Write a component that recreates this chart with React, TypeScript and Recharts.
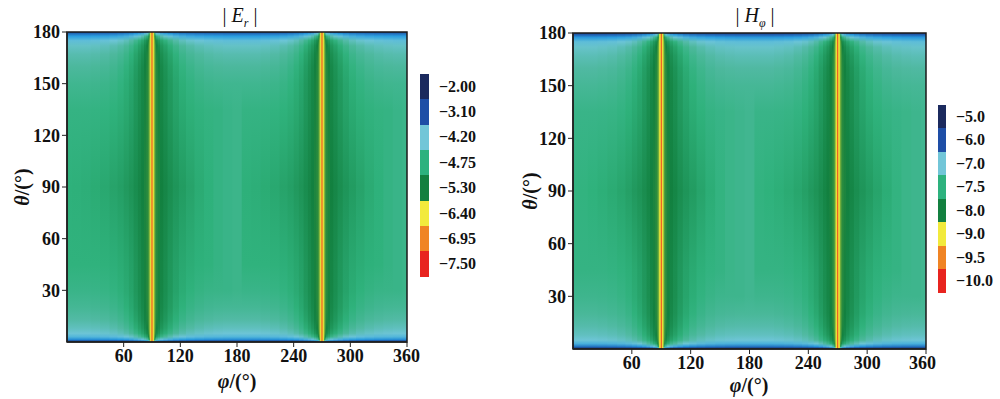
import React from "react";
import { ComposedChart, XAxis, YAxis, ReferenceArea, Scatter } from "recharts";

// phi nodes over one half period (0..180), the pattern repeats for 180..360
const phiHalf = [
  0, 10, 20, 30, 40, 50, 57, 63, 68, 73, 77, 80, 83, 85, 86.5, 87.3, 88, 88.7,
  89.3, 90, 90.7, 91.3, 92, 92.7, 93.5, 95, 97, 100, 104, 109, 115, 122, 130,
  140, 150, 160, 170, 180,
];

// field at theta = 90 for each phi node
const erMid = [
  -4.76, -4.77, -4.79, -4.82, -4.86, -4.91, -4.96, -5.02, -5.08, -5.16, -5.23,
  -5.3, -5.36, -5.42, -5.55, -5.8, -6.2, -6.4, -6.6, -7.5, -6.6, -6.4, -6.2,
  -5.8, -5.55, -5.42, -5.36, -5.3, -5.23, -5.15, -5.07, -4.99, -4.91, -4.83,
  -4.76, -4.7, -4.66, -4.64,
];
const hMid = [
  -7.47, -7.48, -7.5, -7.53, -7.57, -7.62, -7.68, -7.75, -7.8, -7.87, -7.94,
  -8.0, -8.05, -8.11, -8.23, -8.45, -8.82, -9.0, -9.18, -10.0, -9.18, -9.0,
  -8.82, -8.45, -8.23, -8.11, -8.05, -8.0, -7.94, -7.86, -7.79, -7.72, -7.64,
  -7.55, -7.47, -7.41, -7.38, -7.36,
];

// how strongly the pole bands show at each phi node
const edgeWeight = [
  1, 1, 1, 0.97, 0.93, 0.87, 0.8, 0.72, 0.62, 0.5, 0.4, 0.32, 0.22, 0.15, 0.08,
  0.03, 0, 0, 0, 0, 0, 0, 0, 0.03, 0.08, 0.15, 0.22, 0.32, 0.4, 0.5, 0.62, 0.72,
  0.8, 0.87, 0.93, 0.97, 1, 1,
];

const thetaNodes = [
  0, 0.6, 1.5, 3, 5, 8, 13, 20, 30, 45, 90, 135, 150, 160, 167, 172, 175, 177.5,
  179, 180,
];
// field near the poles (null: no pole band)
const erEdge = [
  -2.3, -3.0, -3.6, -4.0, -4.2, -4.32, -4.45, -4.56, -4.66, -4.74, null, -4.7,
  -4.6, -4.5, -4.4, -4.28, -4.1, -3.7, -3.35, -2.7,
];
const hEdge = [
  -5.2, -5.7, -6.3, -6.75, -7.0, -7.1, -7.2, -7.3, -7.38, -7.45, null, -7.42,
  -7.32, -7.24, -7.15, -7.05, -6.9, -6.5, -6.1, -5.6,
];
// how fast the pole band thins toward the bright lines, per theta node
const edgeSharp = [
  0.15, 0.2, 0.35, 0.6, 0.9, 1.2, 1.5, 1.8, 2, 2, 1, 2, 2, 1.8, 1.5, 1.2, 0.9,
  0.5, 0.3, 0.15,
];

const erLevels = [-2.0, -3.1, -4.2, -4.75, -5.3, -6.4, -6.95, -7.5];
const hLevels = [-5.0, -6.0, -7.0, -7.5, -8.0, -9.0, -9.5, -10.0];
const levelColors = [
  "#1b2a5e", "#1e4ea6", "#72c6d8", "#2db27e", "#138040", "#f2ea3c", "#f08424",
  "#e8241f",
];
// smooth colour map, position measured in colour-bar levels
const fieldStops: [number, string][] = [
  [0, "#1b2a5c"],
  [1, "#1d4fa5"],
  [1.55, "#2a9fe0"],
  [2, "#6dc5d6"],
  [2.5, "#4fb9a0"],
  [3, "#2fb27c"],
  [4, "#12803f"],
  [5, "#f0e93a"],
  [6, "#f08a22"],
  [7, "#e8221e"],
];

const phiTicks = [60, 120, 180, 240, 300, 360];
const phiMinor = [15, 30, 45, 75, 90, 105, 135, 150, 165, 195, 210, 225, 255, 270, 285, 315, 330, 345];
const thetaTicks = [30, 60, 90, 120, 150, 180];
const thetaMinor = [10, 20, 40, 50, 70, 80, 100, 110, 130, 140, 160, 170];

const FONT = "'Liberation Serif', 'Times New Roman', serif";

const hexToRgb = (h: string) => [
  parseInt(h.slice(1, 3), 16),
  parseInt(h.slice(3, 5), 16),
  parseInt(h.slice(5, 7), 16),
];

const levelIndex = (v: number, levels: number[]) => {
  if (v >= levels[0]) return 0;
  for (let k = 0; k < levels.length - 1; k++) {
    if (v <= levels[k] && v >= levels[k + 1]) {
      return k + (levels[k] - v) / (levels[k] - levels[k + 1]);
    }
  }
  return levels.length - 1;
};

const indexColor = (idx: number) => {
  for (let k = 0; k < fieldStops.length - 1; k++) {
    const [a, ca] = fieldStops[k];
    const [b, cb] = fieldStops[k + 1];
    if (idx >= a && idx <= b) {
      const t = (idx - a) / (b - a);
      const A = hexToRgb(ca);
      const B = hexToRgb(cb);
      const c = A.map((x, i) => Math.round(x + (B[i] - x) * t));
      return `rgb(${c[0]},${c[1]},${c[2]})`;
    }
  }
  return fieldStops[fieldStops.length - 1][1];
};

const buildColumns = (mid: number[], edge: (number | null)[], levels: number[]) => {
  const phi = [...phiHalf, ...phiHalf.slice(1).map((p) => p + 180)];
  const vals = [...mid, ...mid.slice(1)];
  const w = [...edgeWeight, ...edgeWeight.slice(1)];
  return phi.map((p, i) => {
    const left = i === 0 ? 0 : (phi[i - 1] + p) / 2;
    // overlap into the next column so no seams show; the next column paints over it
    const right = i === phi.length - 1 ? 360 : Math.min(360, (p + phi[i + 1]) / 2 + 1.5);
    const stops = thetaNodes
      .map((th, j) => {
        const e = edge[j];
        const base = vals[i];
        const we = Math.pow(w[i], edgeSharp[j]);
        const v = e !== null && e > base ? base + we * (e - base) : base;
        return { offset: (180 - th) / 180, color: indexColor(levelIndex(v, levels)) };
      })
      .reverse();
    return { left, right, stops };
  });
};

const tickStyle = { fontFamily: FONT, fontSize: 18, fontWeight: 700, fill: "#111" };

interface HeatProps {
  id: string;
  mid: number[];
  edge: (number | null)[];
  levels: number[];
  left: number;
  width: number;
  top: number;
  right: number;
  xHeight: number;
}

const HeatMap: React.FC<HeatProps> = ({ id, mid, edge, levels, left, width, top, right, xHeight }) => {
  const cols = buildColumns(mid, edge, levels);
  return (
    <div style={{ position: "absolute", left, top: 0 }}>
      <svg width={0} height={0} style={{ position: "absolute" }}>
        <defs>
          {cols.map((c, i) => (
            <linearGradient key={i} id={`${id}-g${i}`} x1="0" y1="0" x2="0" y2="1">
              {c.stops.map((s, k) => (
                <stop key={k} offset={s.offset} stopColor={s.color} />
              ))}
            </linearGradient>
          ))}
        </defs>
      </svg>
      <ComposedChart
        width={width}
        height={399}
        margin={{ top, right, bottom: 0, left: 0 }}
        data={[{ phi: 0, theta: 0 }, { phi: 360, theta: 180 }]}
      >
        <XAxis
          xAxisId="m"
          type="number"
          domain={[0, 360]}
          ticks={phiMinor}
          height={0}
          tick={false}
          axisLine={false}
          tickSize={3}
          tickLine={{ stroke: "#222" }}
          allowDataOverflow
        />
        <XAxis
          dataKey="phi"
          type="number"
          domain={[0, 360]}
          ticks={phiTicks}
          height={xHeight}
          tick={tickStyle}
          tickSize={5}
          tickLine={{ stroke: "#222" }}
          axisLine={{ stroke: "#222", strokeWidth: 1.5 }}
          allowDataOverflow
        />
        <YAxis
          yAxisId="m"
          type="number"
          domain={[0, 180]}
          ticks={thetaMinor}
          width={0}
          tick={false}
          axisLine={false}
          tickSize={3}
          tickLine={{ stroke: "#222" }}
          allowDataOverflow
        />
        <YAxis
          dataKey="theta"
          type="number"
          domain={[0, 180]}
          ticks={thetaTicks}
          width={67}
          tick={tickStyle}
          tickSize={5}
          tickLine={{ stroke: "#222" }}
          axisLine={{ stroke: "#222", strokeWidth: 1.5 }}
          allowDataOverflow
        />
        <Scatter dataKey="theta" isAnimationActive={false} shape={() => <g />} />
        {cols.map((c, i) => (
          <ReferenceArea
            key={i}
            x1={c.left}
            x2={c.right}
            y1={0}
            y2={180}
            fill={`url(#${id}-g${i})`}
            fillOpacity={1}
            stroke="none"
            ifOverflow="extendDomain"
          />
        ))}
        <ReferenceArea x1={0} x2={360} y1={0} y2={180} fill="none" stroke="#1a1a1a" strokeWidth={1.5} />
      </ComposedChart>
    </div>
  );
};

const ColorBar: React.FC<{ left: number; top: number; height: number; width: number; labels: string[] }> = ({
  left,
  top,
  height,
  width,
  labels,
}) => {
  const seg = height / labels.length;
  return (
    <div style={{ position: "absolute", left, top }}>
      {labels.map((l, i) => (
        <div key={i} style={{ position: "absolute", top: i * seg, left: 0, height: seg, display: "flex", alignItems: "center" }}>
          <div style={{ width, height: seg + 0.5, background: levelColors[i] }} />
          <span style={{ marginLeft: 10, fontFamily: FONT, fontSize: 16, fontWeight: 700, color: "#111", whiteSpace: "nowrap" }}>
            {l}
          </span>
        </div>
      ))}
    </div>
  );
};

const fmt = (v: number, d: number) => "\u2212" + Math.abs(v).toFixed(d);

const textBase: React.CSSProperties = { position: "absolute", fontFamily: FONT, color: "#111", whiteSpace: "nowrap" };

export default function App() {
  return (
    <div style={{ position: "fixed", left: 0, top: 0, width: 1000, height: 399, background: "#fff", overflow: "hidden" }}>
      <HeatMap id="er" mid={erMid} edge={erEdge} levels={erLevels} left={0} width={420} top={32} right={13} xHeight={57} />
      <HeatMap id="hp" mid={hMid} edge={hEdge} levels={hLevels} left={506} width={430} top={33} right={10} xHeight={50} />

      <div style={{ ...textBase, left: 240, top: 4, fontSize: 20, transform: "translateX(-50%)" }}>
        | <i>E</i>
        <sub style={{ fontSize: 12, fontStyle: "italic" }}>r</sub> |
      </div>
      <div style={{ ...textBase, left: 755, top: 4, fontSize: 20, transform: "translateX(-50%)" }}>
        | <i>H</i>
        <sub style={{ fontSize: 12, fontStyle: "italic" }}>φ</sub> |
      </div>

      <div style={{ ...textBase, left: 237, top: 370, fontSize: 20, fontWeight: 700, transform: "translateX(-50%)" }}>
        <i>φ</i>/(°)
      </div>
      <div style={{ ...textBase, left: 749, top: 374, fontSize: 20, fontWeight: 700, transform: "translateX(-50%)" }}>
        <i>φ</i>/(°)
      </div>
      <div style={{ ...textBase, left: 22, top: 187, fontSize: 20, fontWeight: 700, transform: "translate(-50%,-50%) rotate(-90deg)" }}>
        <i>θ</i>/(°)
      </div>
      <div style={{ ...textBase, left: 530, top: 191, fontSize: 20, fontWeight: 700, transform: "translate(-50%,-50%) rotate(-90deg)" }}>
        <i>θ</i>/(°)
      </div>

      <ColorBar left={420} top={74} height={203} width={9} labels={erLevels.map((v) => fmt(v, 2))} />
      <ColorBar left={938} top={105} height={188} width={8} labels={hLevels.map((v) => fmt(v, 1))} />
    </div>
  );
}
